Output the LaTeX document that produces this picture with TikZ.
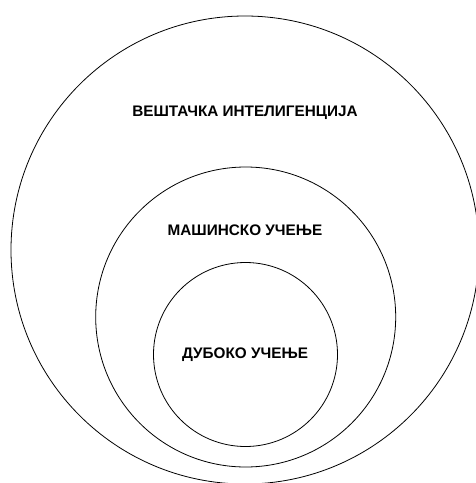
\documentclass[tikz,border=0pt]{standalone}
\usepackage{fontspec}
\setmainfont{Liberation Sans}
\begin{document}
\begin{tikzpicture}[x=1pt,y=-1pt,
  ring/.style={draw=black,line width=0.8pt},
  lbl/.style={font=\bfseries\fontsize{15.3}{18}\selectfont,inner sep=0pt,anchor=center}]
\useasboundingbox (0,0) rectangle (476,483);
\clip (0,0) rectangle (476,483);
\fill[white] (0,0) rectangle (476,483);
\draw[ring] (245,250) circle[radius=234];
\draw[ring] (245.7,317) circle[radius=150];
\draw[ring] (245.5,354.5) circle[radius=92];
\node[lbl] (ai) at (245,113) {ВЕШТАЧКА ИНТЕЛИГЕНЦИЈА};
\node[lbl] (ml) at (245,230) {МАШИНСКО УЧЕЊЕ};
\node[lbl] (dl) at (245,355) {ДУБОКО УЧЕЊЕ};
\end{tikzpicture}
\end{document}
